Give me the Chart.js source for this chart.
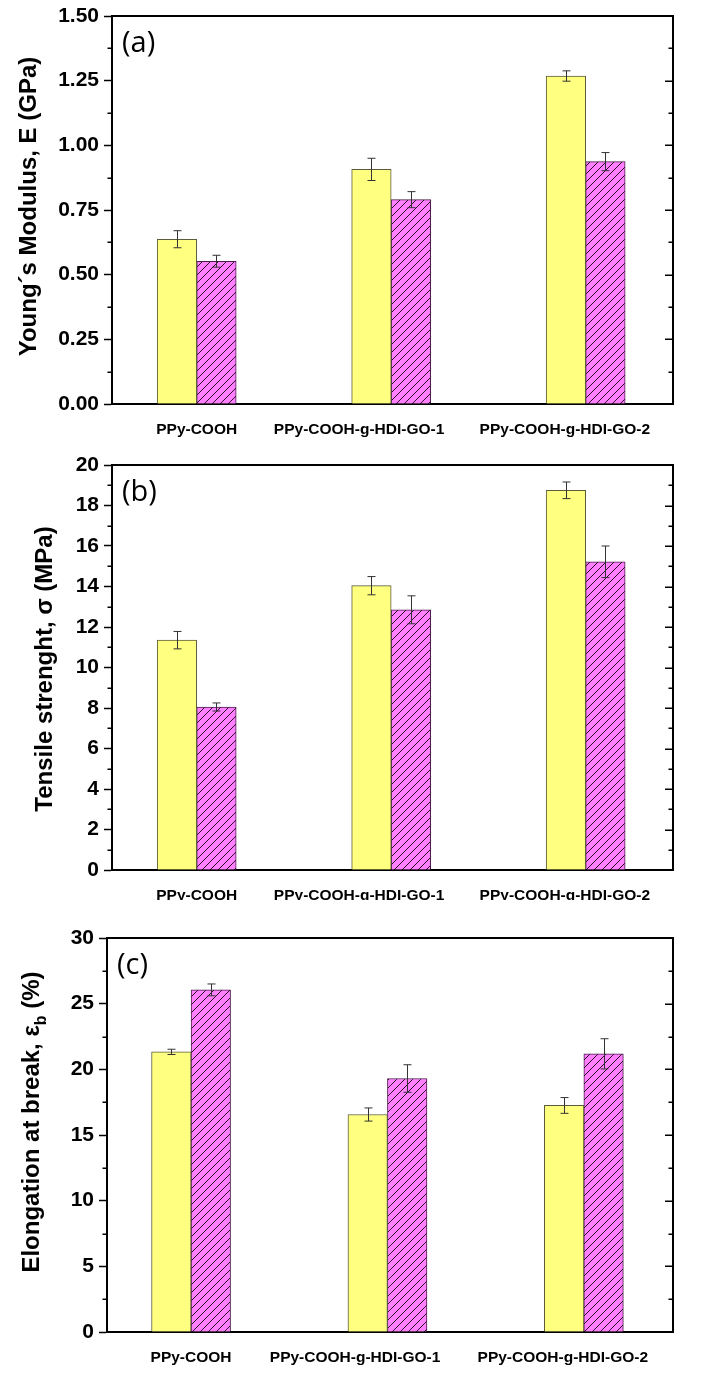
<!DOCTYPE html>
<html>
<head>
<meta charset="utf-8">
<script src="https://cdn.jsdelivr.net/npm/chart.js@4.4.1/dist/chart.umd.min.js"></script>
<style>
  body { margin: 0; background: #fff; }
  canvas.panel { position: absolute; left: 0; }
</style>
</head>
<body>
<canvas id="chartA" class="panel" width="716" height="440" style="top:0px"></canvas>
<canvas id="chartB" class="panel" width="716" height="460" style="top:440px"></canvas>
<canvas id="chartC" class="panel" width="716" height="473" style="top:900px"></canvas>
<script>
// 样品名称（x 轴分类）
const categories = ['PPy-COOH', 'PPy-COOH-g-HDI-GO-1', 'PPy-COOH-g-HDI-GO-2'];
const groupX = [1, 2, 3];
// 分类标签在 x 轴上的位置
const labelX = [1.0, 1.835, 2.893];

// (a) 杨氏模量 (GPa)
const modulusYellow = [0.637, 0.907, 1.268];
const modulusMagenta = [0.552, 0.790, 0.937];
const modulusErrYellow = [0.033, 0.043, 0.020];
const modulusErrMagenta = [0.023, 0.031, 0.035];

// (b) 拉伸强度 (MPa)
const strengthYellow = [11.35, 14.04, 18.75];
const strengthMagenta = [8.05, 12.85, 15.22];
const strengthErrYellow = [0.43, 0.45, 0.41];
const strengthErrMagenta = [0.20, 0.69, 0.78];

// (c) 断裂伸长率 (%)
const elongYellow = [21.33, 16.56, 17.25];
const elongMagenta = [26.05, 19.30, 21.18];
const elongErrYellow = [0.20, 0.50, 0.60];
const elongErrMagenta = [0.45, 1.05, 1.15];

const FONT = '"Liberation Sans", Arial, sans-serif';
Chart.defaults.color = '#000';
Chart.defaults.font.family = FONT;

/**
 * 斜线填充图案
 */
function makeHatch(ctx) {
    const c = document.createElement('canvas');
    c.width = 8;
    c.height = 8;
    const g = c.getContext('2d');
    g.fillStyle = '#FF80FF';
    g.fillRect(0, 0, 8, 8);
    g.strokeStyle = '#2d0f2d';
    g.lineWidth = 1;
    g.beginPath();
    g.moveTo(0, 8); g.lineTo(8, 0);
    g.moveTo(-1, 1); g.lineTo(1, -1);
    g.moveTo(7, 9); g.lineTo(9, 7);
    g.stroke();
    return ctx.createPattern(c, 'repeat');
}

// 误差棒
const errorBarPlugin = {
    id: 'errorBars',
    afterDatasetsDraw(chart) {
        const ctx = chart.ctx;
        const yScale = chart.scales.y;
        ctx.save();
        ctx.strokeStyle = '#333';
        ctx.lineWidth = 1;
        chart.data.datasets.forEach((ds, di) => {
            const meta = chart.getDatasetMeta(di);
            meta.data.forEach((bar, i) => {
                const v = ds.data[i].y;
                const e = ds.errors[i];
                const top = yScale.getPixelForValue(v + e);
                const bot = yScale.getPixelForValue(v - e);
                const x = Math.round(bar.x) + 0.5;
                ctx.beginPath();
                ctx.moveTo(x, top); ctx.lineTo(x, bot);
                ctx.moveTo(x - 4, top); ctx.lineTo(x + 4, top);
                ctx.moveTo(x - 4, bot); ctx.lineTo(x + 4, bot);
                ctx.stroke();
            });
        });
        ctx.restore();
    }
};

// 纵轴标题（支持下标）
function drawRotatedTitle(ctx, parts, bx, cy, size) {
    const main = `bold ${size}px ${FONT}`;
    const sub = `bold ${Math.round(size * 0.65)}px ${FONT}`;
    ctx.save();
    ctx.translate(bx, cy);
    ctx.rotate(-Math.PI / 2);
    ctx.fillStyle = '#000';
    ctx.textAlign = 'left';
    ctx.textBaseline = 'alphabetic';
    const widths = parts.map(p => {
        ctx.font = p.sub ? sub : main;
        return ctx.measureText(p.text).width;
    });
    let x = -widths.reduce((s, w) => s + w, 0) / 2;
    parts.forEach((p, i) => {
        ctx.font = p.sub ? sub : main;
        ctx.fillText(p.text, x, p.sub ? size * 0.3 : 0);
        x += widths[i];
    });
    ctx.restore();
}

// 边框、次刻度、右侧刻度、面板标记
const framePlugin = {
    id: 'frame',
    afterDraw(chart, args, opts) {
        const ctx = chart.ctx;
        const a = chart.chartArea;
        const yScale = chart.scales.y;
        ctx.save();
        ctx.strokeStyle = '#000';
        ctx.lineWidth = 2;
        ctx.beginPath();
        ctx.moveTo(a.left, a.top);
        ctx.lineTo(a.right, a.top);
        ctx.lineTo(a.right, a.bottom);
        ctx.stroke();

        ctx.lineWidth = 1.5;
        const n = Math.round((yScale.max - yScale.min) / opts.minor);
        for (let k = 0; k <= n; k++) {
            const py = Math.round(yScale.getPixelForValue(yScale.min + k * opts.minor)) + 0.25;
            const major = k % 2 === 0;
            const len = major ? 8 : 4.5;
            ctx.beginPath();
            ctx.moveTo(a.right, py);
            ctx.lineTo(a.right - len, py);
            if (!major) {
                ctx.moveTo(a.left, py);
                ctx.lineTo(a.left - len, py);
            }
            ctx.stroke();
        }

        ctx.fillStyle = '#000';
        ctx.font = `29px "Open Sans", sans-serif`;
        ctx.textAlign = 'left';
        ctx.textBaseline = 'middle';
        ctx.fillText(opts.panel, a.left + 10, a.top + 28);

        drawRotatedTitle(ctx, opts.title, opts.titleX, opts.titleY, 24);
        ctx.restore();
    }
};

function createPanel(canvasId, cfg) {
    const canvas = document.getElementById(canvasId);
    const ctx = canvas.getContext('2d');
    return new Chart(ctx, {
        type: 'bar',
        data: {
            datasets: [{
                data: groupX.map((x, i) => ({ x: x, y: cfg.yellow[i] })),
                errors: cfg.errYellow,
                backgroundColor: '#FFFF80',
                borderColor: '#5c5c3d',
                borderWidth: 1,
                barThickness: 39.5
            }, {
                data: groupX.map((x, i) => ({ x: x, y: cfg.magenta[i] })),
                errors: cfg.errMagenta,
                backgroundColor: makeHatch(ctx),
                borderColor: '#4a1d4a',
                borderWidth: 1,
                barThickness: 39.5
            }]
        },
        options: {
            responsive: false,
            animation: false,
            layout: { padding: { top: cfg.padTop, right: 43, bottom: 0, left: 0 } },
            plugins: {
                legend: { display: false },
                tooltip: { enabled: false },
                frame: {
                    minor: cfg.minor,
                    panel: cfg.panel,
                    title: cfg.title,
                    titleX: cfg.titleX,
                    titleY: cfg.titleY
                }
            },
            scales: {
                x: {
                    type: 'linear',
                    offset: false,
                    min: cfg.xMin,
                    max: cfg.xMax,
                    grid: { display: false },
                    border: { display: true, color: '#000', width: 2 },
                    afterBuildTicks: axis => {
                        axis.ticks = labelX.map(v => ({ value: v }));
                    },
                    afterFit: axis => {
                        axis.height = cfg.xHeight;
                        axis.paddingLeft = 0;
                        axis.paddingRight = 0;
                    },
                    ticks: {
                        autoSkip: false,
                        maxRotation: 0,
                        minRotation: 0,
                        padding: 8.5,
                        font: { size: 15.5, weight: 'bold' },
                        callback: (v, i) => categories[i]
                    }
                },
                y: {
                    min: cfg.yMin,
                    max: cfg.yMax,
                    grid: {
                        display: true,
                        drawOnChartArea: false,
                        drawTicks: true,
                        tickLength: 8,
                        tickWidth: 1.5,
                        tickColor: '#000'
                    },
                    border: { display: true, color: '#000', width: 2 },
                    afterFit: axis => {
                        axis.width = cfg.yWidth;
                        axis.paddingTop = 0;
                        axis.paddingBottom = 0;
                    },
                    ticks: {
                        stepSize: cfg.step,
                        padding: 5,
                        font: { size: 21, weight: 'bold' },
                        callback: v => v.toFixed(cfg.decimals)
                    }
                }
            }
        },
        plugins: [errorBarPlugin, framePlugin]
    });
}

createPanel('chartA', {
    yellow: modulusYellow, magenta: modulusMagenta,
    errYellow: modulusErrYellow, errMagenta: modulusErrMagenta,
    yMin: 0, yMax: 1.5, step: 0.25, minor: 0.125, decimals: 2,
    xMin: 0.5645, xMax: 3.449,
    padTop: 16, xHeight: 36, yWidth: 112,
    panel: '(a)',
    title: [{ text: 'Young\u00B4s Modulus, E (GPa)' }],
    titleX: 35.5, titleY: 206.5
});

createPanel('chartB', {
    yellow: strengthYellow, magenta: strengthMagenta,
    errYellow: strengthErrYellow, errMagenta: strengthErrMagenta,
    yMin: 0, yMax: 20, step: 2, minor: 1, decimals: 0,
    xMin: 0.5645, xMax: 3.449,
    padTop: 25, xHeight: 30, yWidth: 112,
    panel: '(b)',
    title: [{ text: 'Tensile strenght, \u03C3 (MPa)' }],
    titleX: 52, titleY: 229
});

createPanel('chartC', {
    yellow: elongYellow, magenta: elongMagenta,
    errYellow: elongErrYellow, errMagenta: elongErrMagenta,
    yMin: 0, yMax: 30, step: 5, minor: 2.5, decimals: 0,
    xMin: 0.572, xMax: 3.454,
    padTop: 38, xHeight: 41, yWidth: 107,
    panel: '(c)',
    title: [{ text: 'Elongation at break, \u03B5' }, { text: 'b', sub: true }, { text: ' (%)' }],
    titleX: 39, titleY: 222
});
</script>
</body>
</html>
